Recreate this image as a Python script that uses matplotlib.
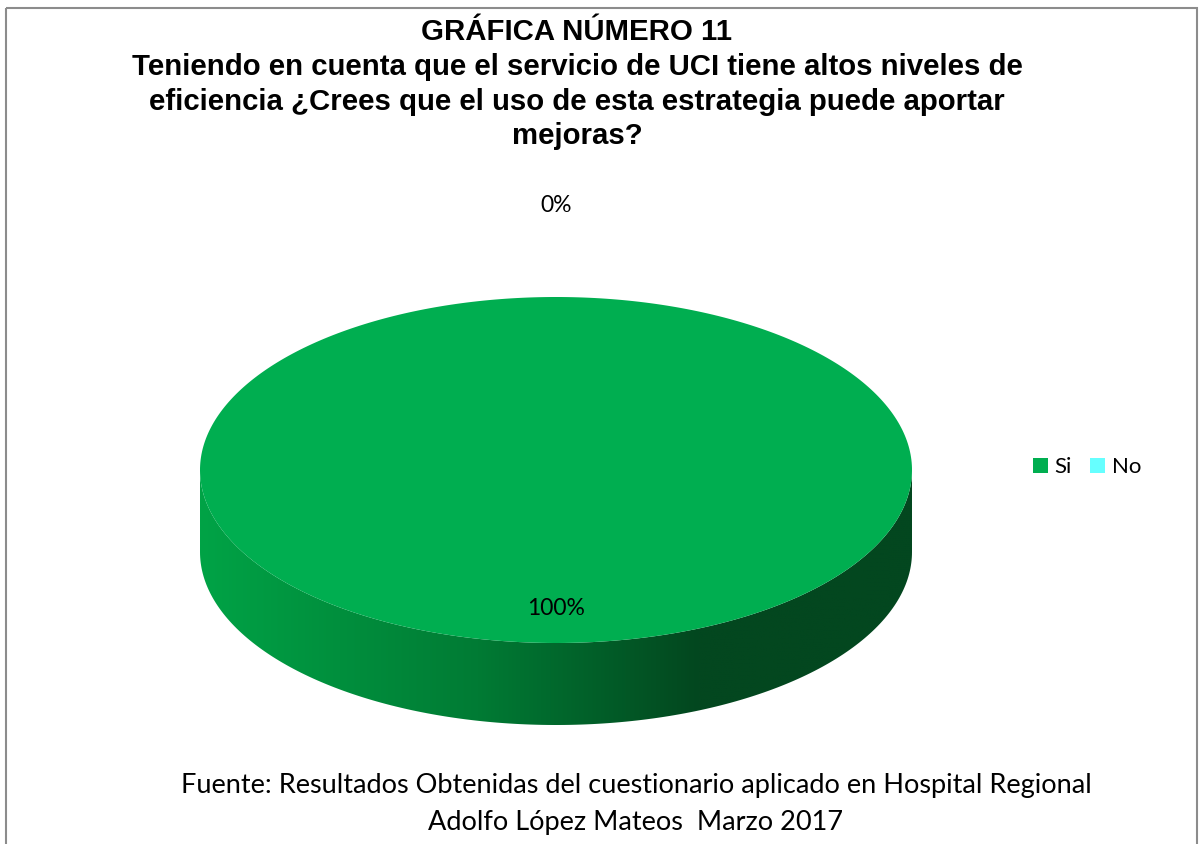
import numpy as np
import matplotlib.pyplot as plt
from matplotlib.patches import Polygon, Patch, Rectangle
from matplotlib.colors import LinearSegmentedColormap

# respuestas de la encuesta
categorias = ['Si', 'No']
porcentajes = [100, 0]
colores = ['#00ae50', '#66ffff']

titulo = ('GRÁFICA NÚMERO 11\n'
          'Teniendo en cuenta que el servicio de UCI tiene altos niveles de\n'
          'eficiencia ¿Crees que el uso de esta estrategia puede aportar\n'
          'mejoras?')
fuente = ('Fuente: Resultados Obtenidas del cuestionario aplicado en Hospital Regional\n'
          'Adolfo López Mateos  Marzo 2017')

fig = plt.figure(figsize=(11.99, 8.44), dpi=100)
ax = fig.add_axes([0, 0, 1, 1])
ax.set_xlim(0, 1199)
ax.set_ylim(844, 0)
ax.axis('off')

# geometria del pastel 3d (en pixeles)
cx, cy = 556, 470
rx, ry = 356, 173
prof = 82

def punto(ang, r=1.0, dy=0):
    # angulo en grados, 0 = arriba, sentido horario
    t = np.radians(ang)
    return cx + r * rx * np.sin(t), cy - r * ry * np.cos(t) + dy

total = float(sum(porcentajes))
inicio = 0.0
cortes = []
for v in porcentajes:
    barrido = 360.0 * v / total
    cortes.append((inicio, inicio + barrido))
    inicio += barrido

# lado frontal con degradado
lado_cmap = LinearSegmentedColormap.from_list(
    'lado', [(0.0, '#00a346'), (0.39, '#007b34'), (0.7, '#03471f'), (1.0, '#03471f')])
for (a0, a1), col, v in zip(cortes, colores, porcentajes):
    if v == 0:
        continue
    lo, hi = max(a0, 90), min(a1, 270)
    if hi <= lo:
        continue
    angs = np.linspace(lo, hi, 200)
    xs, ys = punto(angs)
    xb, yb = punto(angs[::-1], dy=prof)
    poly = Polygon(np.column_stack([np.r_[xs, xb], np.r_[ys, yb]]),
                   closed=True, facecolor='none', edgecolor='none')
    ax.add_patch(poly)
    grad = np.linspace(0, 1, 256).reshape(1, -1)
    im = ax.imshow(grad, cmap=lado_cmap, aspect='auto',
                   extent=(cx - rx, cx + rx, cy + ry + prof + 2, cy - 2),
                   interpolation='bilinear', zorder=2)
    im.set_clip_path(poly)

# cara superior
for (a0, a1), col, v in zip(cortes, colores, porcentajes):
    if v == 0:
        continue
    angs = np.linspace(a0, a1, 400)
    xs, ys = punto(angs)
    if a1 - a0 < 360:
        xs, ys = np.r_[cx, xs], np.r_[cy, ys]
    ax.add_patch(Polygon(np.column_stack([xs, ys]), closed=True,
                         facecolor=col, edgecolor='none', zorder=3))

# etiquetas de porcentaje
for (a0, a1), v in zip(cortes, porcentajes):
    medio = (a0 + a1) / 2
    r = 0.8 if v > 0 else 1.53
    x, y = punto(medio, r)
    ax.text(x, y, f'{v}%', ha='center', va='center', fontsize=16.5,
            family='Lato', color='black', zorder=4)

ax.text(577, 18, titulo, ha='center', va='top', fontsize=21.2, fontweight='bold',
        family='Liberation Sans', linespacing=1.31)
ax.text(636, 804, fuente, ha='center', va='center', fontsize=19.5,
        family='Lato', linespacing=1.6)

handles = [Patch(facecolor=c, edgecolor='none') for c in colores]
ax.legend(handles, categorias, loc='center left', bbox_to_anchor=(1033 / 1199, 1 - 467 / 844),
          borderaxespad=0, borderpad=0, ncol=2, frameon=False,
          handlelength=0.68, handleheight=0.68, handletextpad=0.3,
          columnspacing=0.8, prop={'family': 'Lato', 'size': 16})

# marco del grafico
ax.add_patch(Rectangle((6, 8), 1191, 860, facecolor='none', edgecolor='#8c8c8c',
                       linewidth=1.5, zorder=5))

fig.savefig('out.png', dpi=100)
